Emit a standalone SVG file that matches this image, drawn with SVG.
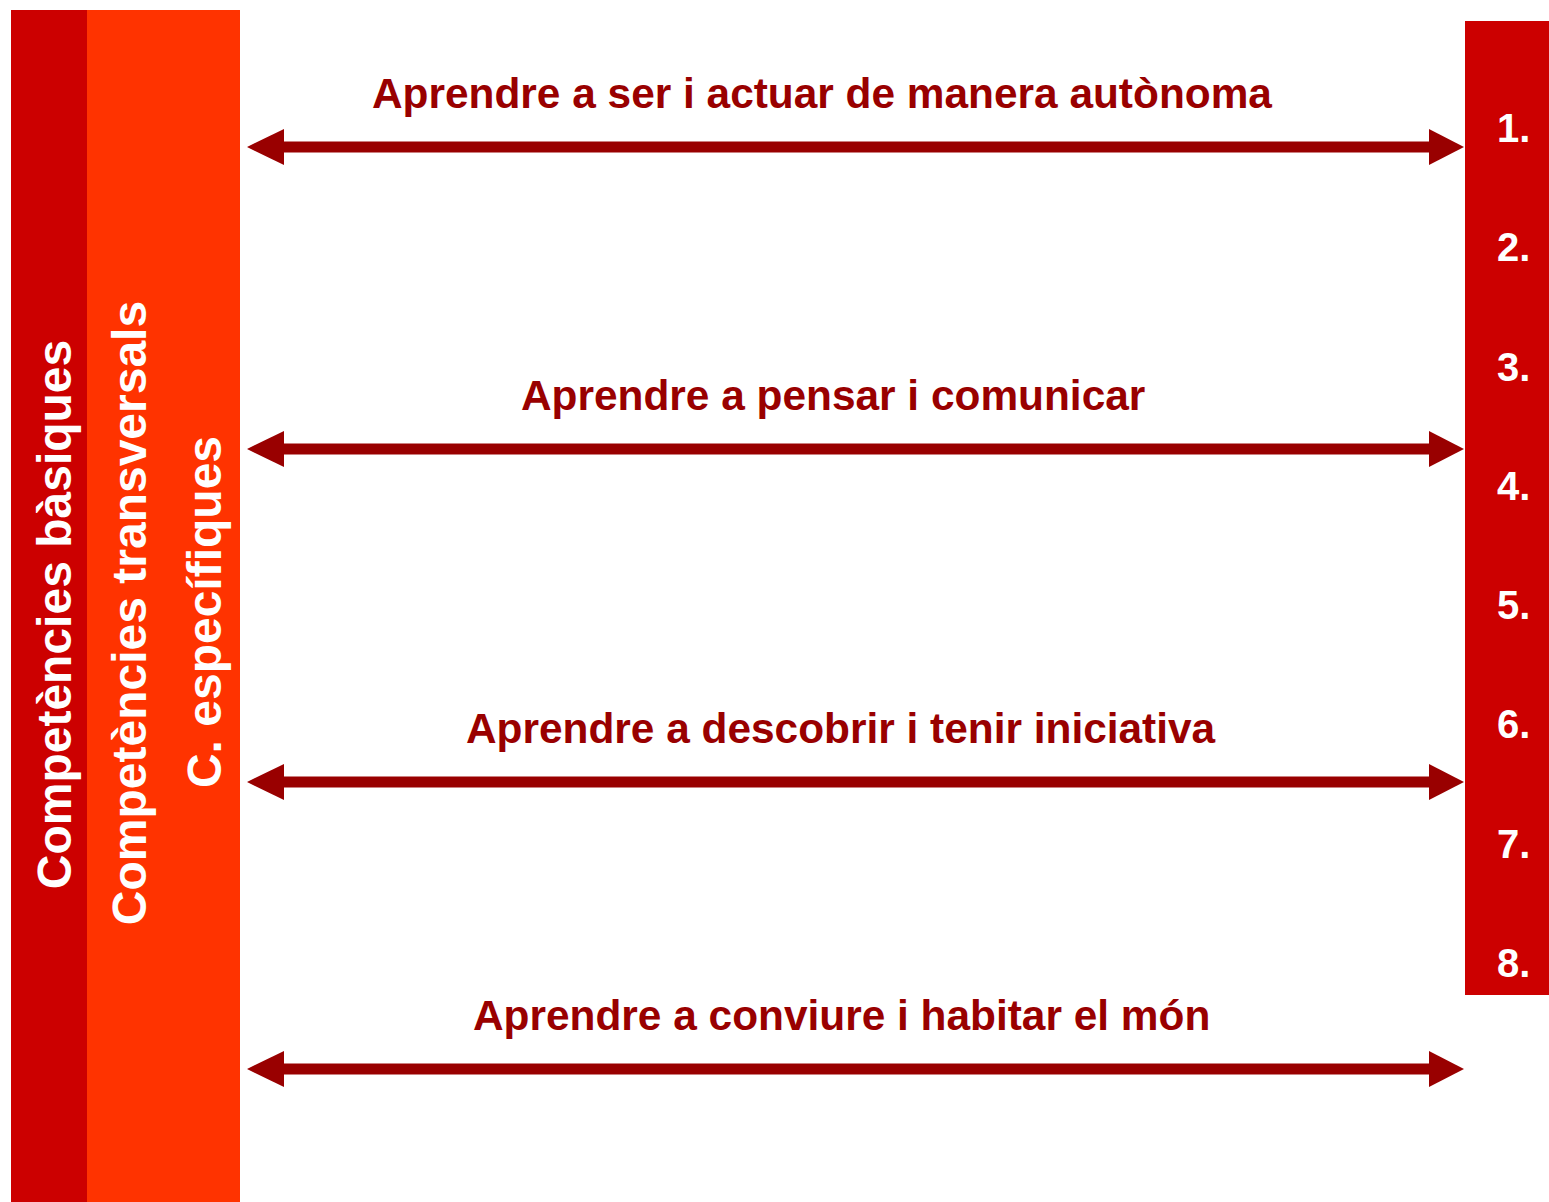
<svg xmlns="http://www.w3.org/2000/svg" width="1549" height="1202" viewBox="0 0 1549 1202">
<style>
.lbl{font-family:"Liberation Sans",Arial,sans-serif;font-weight:bold;font-size:42.4px;fill:#990000}
.vt{font-family:"Liberation Sans",Arial,sans-serif;font-weight:bold;font-size:48px;fill:#ffffff;text-anchor:middle}
.num{font-family:"Liberation Sans",Arial,sans-serif;font-weight:bold;font-size:40px;fill:#ffffff}
.shaft{stroke:#990000;stroke-width:11;fill:none;marker-start:url(#headL);marker-end:url(#headR)}
</style>
<defs>
<marker id="headR" markerUnits="userSpaceOnUse" viewBox="0 0 36 36" refX="1" refY="18" markerWidth="36" markerHeight="36" orient="0" overflow="visible">
<path d="M0,0 L35,18 L0,36 Z" fill="#990000"/>
</marker>
<marker id="headL" markerUnits="userSpaceOnUse" viewBox="0 0 37 36" refX="37" refY="18" markerWidth="37" markerHeight="36" orient="0" overflow="visible">
<path d="M37,0 L0,18 L37,36 Z" fill="#990000"/>
</marker>
</defs>
<rect width="1549" height="1202" fill="#ffffff"/>
<g id="basiques">
<rect x="11" y="10" width="76" height="1192" fill="#cc0000"/>
<text class="vt" transform="translate(71,614.5) rotate(-90)">Competències bàsiques</text>
</g>
<g id="transversals">
<rect x="87" y="10" width="153" height="1192" fill="#ff3300"/>
<text class="vt" transform="translate(146,613) rotate(-90)">Competències transversals</text>
</g>
<g id="especifiques">
<text class="vt" transform="translate(221,612) rotate(-90)">C. específiques</text>
</g>
<g id="numeros">
<rect x="1465" y="21" width="84" height="974" fill="#cc0000"/>
<text class="num" x="1497" y="142">1.</text>
<text class="num" x="1497" y="261">2.</text>
<text class="num" x="1497" y="381">3.</text>
<text class="num" x="1497" y="500">4.</text>
<text class="num" x="1497" y="619">5.</text>
<text class="num" x="1497" y="738">6.</text>
<text class="num" x="1497" y="858">7.</text>
<text class="num" x="1497" y="977">8.</text>
</g>
<g id="connectors">
<line class="shaft" x1="284" y1="147" x2="1430" y2="147"/>
<line class="shaft" x1="284" y1="449" x2="1430" y2="449"/>
<line class="shaft" x1="284" y1="782" x2="1430" y2="782"/>
<line class="shaft" x1="284" y1="1069" x2="1430" y2="1069"/>
</g>
<g id="labels">
<text class="lbl" x="372" y="108">Aprendre a ser i actuar de manera autònoma</text>
<text class="lbl" x="521" y="410">Aprendre a pensar i comunicar</text>
<text class="lbl" x="466" y="743">Aprendre a descobrir i tenir iniciativa</text>
<text class="lbl" x="473" y="1030">Aprendre a conviure i habitar el món</text>
</g>
</svg>
